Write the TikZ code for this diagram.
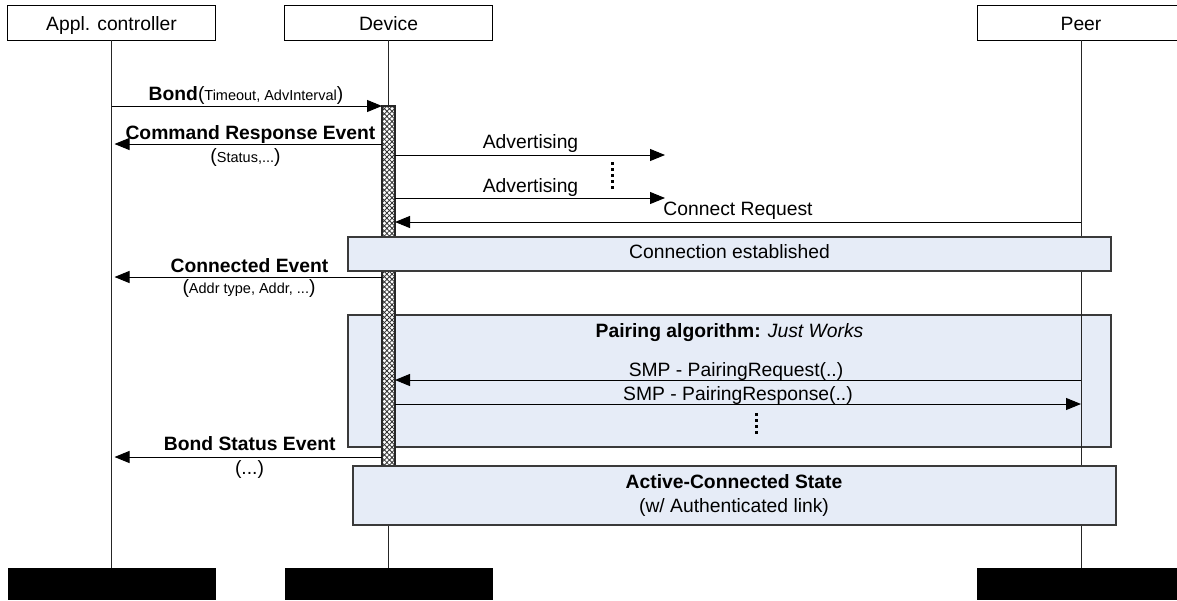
\documentclass[tikz,border=0pt]{standalone}
\usepackage{fontspec}
\setmainfont{Liberation Sans}
\usetikzlibrary{arrows.meta,patterns.meta,calc}
\definecolor{boxblue}{HTML}{E6ECF7}
\definecolor{edgegray}{HTML}{3A3A3A}
\newcommand\mainsz{\fontsize{19.3}{22}\selectfont}
\newcommand\argfont{\fontsize{14.5}{16}\selectfont}
\begin{document}
\begin{tikzpicture}[x=1pt,y=-1pt,
  every node/.style={inner sep=0pt,outer sep=0pt,font=\mainsz},
  hdr/.style={draw=black,line width=1pt,minimum width=208pt,minimum height=35pt,text height=16.4pt,text depth=0pt},
  blk/.style={fill=black,minimum width=208pt,minimum height=32pt},
  life/.style={draw=black!85,line width=1pt},
  grp/.style={draw=edgegray,line width=1.2pt,fill=boxblue,minimum width=763pt},
  msg/.style={line width=1pt,-{Triangle[length=15pt,width=12pt]}},
  lbl/.style={anchor=base},
  vdots/.style={line width=3pt,dash pattern=on 3pt off 3pt},
  actbar/.style={minimum width=13pt,minimum height=360pt,
    preaction={fill=white},
    pattern={Lines[angle=45,distance=3.6pt,line width=0.85pt]},pattern color=black!80,
    postaction={pattern={Lines[angle=-45,distance=3.6pt,line width=0.85pt]},pattern color=black!80},
    postaction={draw=black!85,line width=1.2pt}}]
\useasboundingbox (0,0) rectangle (1177,600);
\clip (0,0) rectangle (1177,600);
\fill[white] (0,0) rectangle (1177,600);

% headers and bottoms
\node[hdr] (hA) at (111.5,22.5) {Appl. controller};
\node[hdr] (hD) at (388.5,22.5) {Device};
\node[hdr] (hP) at (1081,22.5) {Peer};
\node[blk] (bA) at (111.5,584) {};
\node[blk] (bD) at (388.5,584) {};
\node[blk] (bP) at (1081,584) {};

% pairing group (below lifelines)
\node[grp,minimum height=132pt] (pair) at (729.5,381) {};

% lifelines
\draw[life] (hA.south) -- (bA.north);
\draw[life] (hD.south) -- (bD.north);
\draw[life] (hP.south) -- (bP.north);

% activation bar
\node[actbar] (act) at (388.5,286) {};

% connection established and active state boxes
\node[grp,minimum height=34pt,text height=12pt,text depth=4pt] (conn) at (729.5,254) {Connection established};
\node[grp,minimum height=59pt] (actst) at (734.5,495.5) {};
\node[lbl] (actst1) at (734,488) {\textbf{Active-Connected State}};
\node[lbl] (actst2) at (734,512) {(w/ Authenticated link)};

% y levels
\coordinate (yBond) at (0,106);
\coordinate (yCR) at (0,144);
\coordinate (yAdv1) at (0,155);
\coordinate (yAdv2) at (0,198);
\coordinate (yConReq) at (0,222);
\coordinate (yConEv) at (0,277);
\coordinate (yPReq) at (0,380);
\coordinate (yPRsp) at (0,404);
\coordinate (yBS) at (0,457);
\coordinate (adv1) at (665,155);
\coordinate (adv2) at (665,198);

% messages
\draw[msg] (hA.south |- yBond) -- (act.north west);
\node[lbl] (lBond) at (246,100) {\textbf{Bond}({\argfont Timeout, AdvInterval})};

\draw[msg] (act.west |- yCR) -- ([xshift=3pt]hA.south |- yCR);
\node[lbl] (lCR) at (250.5,139) {\textbf{Command Response Event}};
\node[lbl] (lCR2) at (245.5,162) {({\argfont Status,...})};

\draw[msg] (act.east |- yAdv1) -- (adv1);
\node[lbl] (lAdv1) at (530.5,148) {Advertising};
\draw[msg] (act.east |- yAdv2) -- (adv2);
\node[lbl] (lAdv2) at (530.5,192) {Advertising};
\coordinate (d1a) at (612,162);
\coordinate (d1b) at (612,190);
\draw[vdots] (d1a) -- (d1b);

\draw[msg] (hP.south |- yConReq) -- (act.east |- yConReq);
\node[lbl] (lConReq) at (738,215) {Connect Request};

\draw[msg] (act.west |- yConEv) -- ([xshift=3pt]hA.south |- yConEv);
\node[lbl] (lConEv) at (249.5,272) {\textbf{Connected Event}};
\node[lbl] (lConEv2) at (249,293) {({\argfont Addr type, Addr, ...})};

\node[lbl] (lPair) at (729.5,337) {\textbf{Pairing algorithm:} \textit{Just Works}};
\draw[msg] (hP.south |- yPReq) -- (act.east |- yPReq);
\node[lbl] (lPReq) at (736,376) {SMP - PairingRequest(..)};
\draw[msg] (act.east |- yPRsp) -- (hP.south |- yPRsp);
\node[lbl] (lPRsp) at (738,400) {SMP - PairingResponse(..)};
\coordinate (d2a) at (756,413);
\coordinate (d2b) at (756,435);
\draw[vdots] (d2a) -- (d2b);

\draw[msg] (act.west |- yBS) -- ([xshift=3pt]hA.south |- yBS);
\node[lbl] (lBS) at (249.7,450) {\textbf{Bond Status Event}};
\node[lbl] (lBS2) at (249.5,474) {(...)};
\end{tikzpicture}
\end{document}
